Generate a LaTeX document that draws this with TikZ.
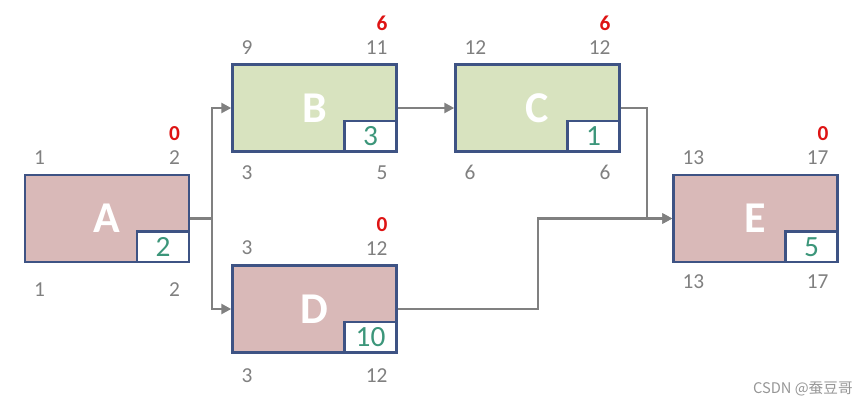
\documentclass[tikz,border=0pt]{standalone}
\usepackage{fontspec}
\setmainfont{Carlito}
\newfontfamily\cjk{Noto Sans CJK SC}
\usepackage{tikz}
\usetikzlibrary{positioning, arrows.meta, calc}
\definecolor{NetBorder}{RGB}{62,83,132}
\definecolor{NetPink}{RGB}{217,185,184}
\definecolor{NetGreen}{RGB}{216,227,191}
\definecolor{NetDur}{RGB}{60,150,122}
\definecolor{NetGray}{RGB}{128,128,128}
\definecolor{NetRed}{RGB}{222,20,20}
\definecolor{NetMark}{RGB}{150,150,150}

\begin{document}
\begin{tikzpicture}[x=0.75pt, y=-0.75pt,
      task/.style={rectangle, draw=NetBorder, line width=1.8pt,
                   minimum width=123pt, minimum height=65.5pt, inner sep=0pt,
                   font=\fontsize{33}{33}\selectfont\bfseries, text=white},
      dur/.style={rectangle, draw=NetBorder, fill=white, line width=1.8pt,
                  minimum width=39pt, minimum height=23pt, inner sep=0pt,
                  anchor=south east, text=NetDur,
                  font=\fontsize{22}{22}\selectfont},
      num/.style={text=NetGray, inner sep=0pt, font=\fontsize{16}{16}\selectfont},
      slack/.style={text=NetRed, inner sep=0pt, font=\fontsize{16}{16}\selectfont\bfseries},
      arr/.style={-{Triangle[length=7.5pt, width=7.5pt]}, line width=1.8pt, NetGray}
    ]
    \useasboundingbox (0,0) rectangle (868,408);

    \node[task, fill=NetPink]  (A) at (107,  218.5) {A};
    \node[task, fill=NetGreen] (B) at (314.5,108)   {B};
    \node[task, fill=NetGreen] (C) at (537.5,108)   {C};
    \node[task, fill=NetPink]  (D) at (314.5,309)   {D};
    \node[task, fill=NetPink]  (E) at (755.5,218.5) {E};

    % duration boxes
    \node[dur] (Adur) at (A.south east) {2};
    \node[dur] (Bdur) at (B.south east) {3};
    \node[dur] (Cdur) at (C.south east) {1};
    \node[dur] (Ddur) at (D.south east) {10};
    \node[dur] (Edur) at (E.south east) {5};

    % times above / below, float in red
    \foreach \t/\tl/\tr/\bl/\br/\fl/\bo in {A/1/2/1/2/0/26, B/9/11/3/5/6/20,
        C/12/12/6/6/6/20, D/3/12/3/12/0/22, E/13/17/13/17/0/18}{
      \node[num, anchor=west] (\t tl) at ($(\t.north west)+(10,-16)$) {\tl};
      \node[num, anchor=east] (\t tr) at ($(\t.north east)+(-10,-16)$) {\tr};
      \node[slack, anchor=east] (\t fl) at ($(\t.north east)+(-10,-40)$) {\fl};
      \node[num, anchor=west] (\t bl) at ($(\t.south west)+(10,\bo)$) {\bl};
      \node[num, anchor=east] (\t br) at ($(\t.south east)+(-10,\bo)$) {\br};
    }

    % connectors
    \draw[arr] (A.east) -- ++(22,0) |- (B.west);
    \draw[arr] (A.east) -- ++(22,0) |- (D.west);
    \draw[arr] (B.east) -- (C.west);
    \draw[arr] (C.east) -- ++(26,0) |- (E.west);
    \draw[arr] (D.east) -- ++(140,0) |- (E.west);

    \node[text=NetMark, inner sep=0pt, anchor=east,
          font=\cjk\fontsize{11}{11}\selectfont] (mark) at (853,389) {CSDN @蚕豆哥};
  \end{tikzpicture}
\end{document}
